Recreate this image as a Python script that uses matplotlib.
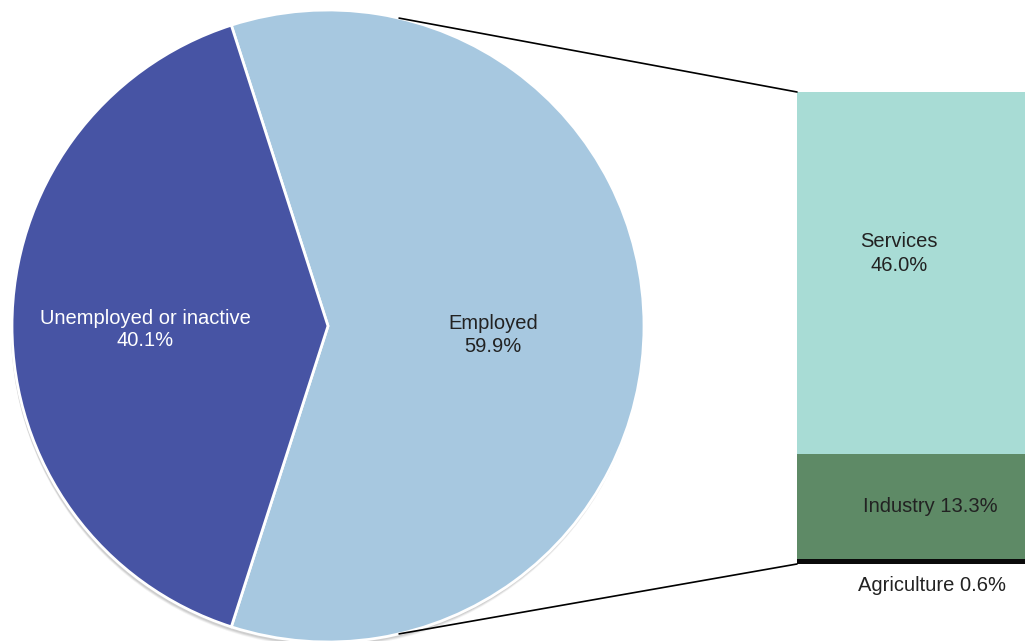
import numpy as np
import matplotlib.pyplot as plt
from matplotlib.patches import ConnectionPatch, Circle

plt.rcParams['font.family'] = ['Liberation Sans', 'DejaVu Sans']

# data
pie_labels = ['Employed', 'Unemployed or inactive']
pie_values = [59.9, 40.1]
pie_colors = ['#a7c8e0', '#4754a4']

bar_labels = ['Agriculture', 'Industry', 'Services']
bar_values = [0.6, 13.3, 46.0]
bar_colors = ['#0a0a0a', '#5e8a66', '#a8dcd5']

W, H = 1025, 641
fs = 14.5
fig = plt.figure(figsize=(W / 100, H / 100), dpi=100)

# pie axes covers the figure, data units = pixels
ax = fig.add_axes([0, 0, 1, 1])
ax.set_xlim(0, W)
ax.set_ylim(0, H)
ax.set_aspect('equal')
ax.axis('off')

cx, cy, r = 328, H - 326, 316
# soft shadow
for k, a in [(5, 0.05), (4, 0.07), (3, 0.08)]:
    ax.add_patch(Circle((cx - 1, cy - k), r, color='black', alpha=a, lw=0, zorder=0))
start = -pie_values[0] / 100 * 360 / 2
wedges, _ = ax.pie(pie_values, colors=pie_colors, startangle=start, center=(cx, cy),
                   radius=r, wedgeprops=dict(edgecolor='white', linewidth=2))
ax.set_xlim(0, W)
ax.set_ylim(0, H)

ax.text(493, H - 335, 'Employed\n59.9%', ha='center', va='center', fontsize=fs,
        color='#222222', linespacing=1.3)
ax.text(145, H - 330, 'Unemployed or inactive\n40.1%', ha='center', va='center',
        fontsize=fs, color='white', linespacing=1.2)

# bar axes
bx = fig.add_axes([797 / W, (H - 564) / H, (W - 797) / W, (564 - 92) / H])
bottom = 0
for v, c in zip(bar_values, bar_colors):
    bx.bar(0, v, width=1, bottom=bottom, color=c, edgecolor='none')
    bottom += v
bx.set_xlim(-0.5, 0.5)
bx.set_ylim(0, sum(bar_values))
bx.axis('off')

bx.text(-0.053, 39.4, 'Services\n46.0%', ha='center', va='center', fontsize=fs,
        color='#222222', linespacing=1.3)
bx.text(0.083, bar_values[0] + bar_values[1] / 2, 'Industry 13.3%', ha='center',
        va='center', fontsize=fs, color='#222222')
bx.text(0.092, -2.7, 'Agriculture 0.6%', ha='center', va='center', fontsize=fs,
        color='#222222')

# connector lines
ang = np.deg2rad(77)
for sign, yb in [(1, sum(bar_values)), (-1, 0)]:
    xa = cx + r * np.cos(ang)
    ya = cy + sign * r * np.sin(ang)
    con = ConnectionPatch(xyA=(xa, ya), coordsA=ax.transData, xyB=(-0.5, yb),
                          coordsB=bx.transData, color='black', linewidth=1.2)
    fig.add_artist(con)

fig.savefig('out.png', dpi=100)
